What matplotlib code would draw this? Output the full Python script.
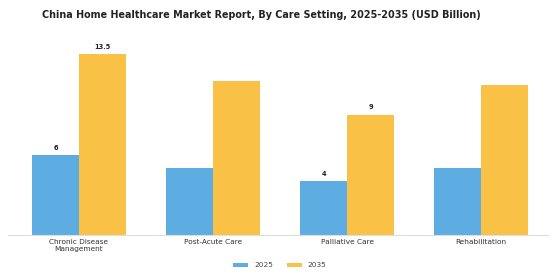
import matplotlib
matplotlib.use("Agg")
import matplotlib.pyplot as plt
import numpy as np

categories = ["Chronic Disease\nManagement", "Post-Acute Care", "Palliative Care", "Rehabilitation"]
series_names = ["2025", "2035"]
values_2025 = [6.0, 5.0, 4.0, 5.0]
values_2035 = [13.5, 11.5, 9.0, 11.2]
labels_2025 = ["6", None, "4", None]
labels_2035 = ["13.5", None, "9", None]

colors = ["#5DADE2", "#F9C145"]

fig = plt.figure(figsize=(5.6, 2.8), dpi=100)
ax = fig.add_axes([0.014, 0.161, 0.965, 0.716])

x = np.arange(len(categories))
w = 0.35
b1 = ax.bar(x - w / 2, values_2025, w, color=colors[0], label=series_names[0])
b2 = ax.bar(x + w / 2, values_2035, w, color=colors[1], label=series_names[1])

for bars, labs in ((b1, labels_2025), (b2, labels_2035)):
    for bar, lab in zip(bars, labs):
        if lab:
            ax.annotate(lab, (bar.get_x() + bar.get_width() / 2, bar.get_height()),
                        xytext=(0, 3), textcoords="offset points",
                        ha="center", va="bottom", fontsize=4.8, fontweight="bold",
                        color="#222222")

ax.set_xlim(-0.53, 3.5)
ax.set_ylim(0, 15)
ax.set_xticks(x)
ax.set_xticklabels(categories, fontsize=5.3, color="#333333", linespacing=1.1)
ax.tick_params(axis="x", length=0, pad=3)
ax.set_yticks([])
for s in ["top", "right", "left"]:
    ax.spines[s].set_visible(False)
ax.spines["bottom"].set_color("#dddddd")
ax.spines["bottom"].set_linewidth(0.8)

fig.suptitle("China Home Healthcare Market Report, By Care Setting, 2025-2035 (USD Billion)",
             fontsize=6.9, fontweight="bold", color="#222222", x=0.466, y=0.965)

fig.legend(loc="center", bbox_to_anchor=(0.5, 0.052), ncol=2, frameon=False,
           fontsize=5.3, handlelength=2.0, handleheight=0.5, columnspacing=1.95,
           handletextpad=0.8, labelcolor="#444444")

fig.savefig("out.png", dpi=100, facecolor="white")
